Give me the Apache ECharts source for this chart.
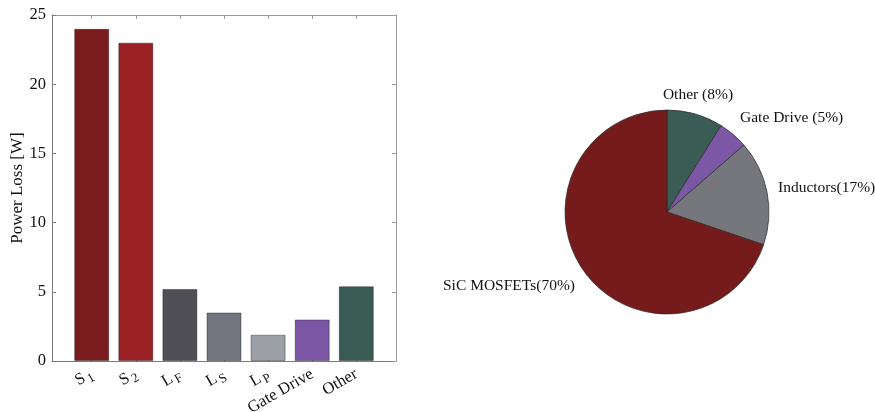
<!DOCTYPE html>
<html>
<head>
<meta charset="utf-8">
<script src="https://cdn.jsdelivr.net/npm/echarts@6/dist/echarts.min.js"></script>
<style>
  html, body { margin: 0; padding: 0; background: #fff; }
  #chart { width: 875px; height: 412px; }
</style>
</head>
<body>
<div id="chart"></div>
<script>
// bar chart: power loss per component
const barLabels = ['S{sub|1}', 'S{sub|2}', 'L{sub|F}', 'L{sub|S}', 'L{sub|P}', 'Gate Drive', 'Other'];
const barValues = [24, 23, 5.2, 3.5, 1.9, 3.0, 5.4];
const barColors = ['#7a1c1d', '#9c2125', '#4f4f55', '#73767e', '#9d9fa6', '#7b57a6', '#3a5c55'];
const yTicks = [0, 5, 10, 15, 20, 25];

// pie chart: loss breakdown (clockwise from top)
const pieNames = ['Other', 'Gate Drive', 'Inductors', 'SiC MOSFETs'];
const pieValues = [8.9, 4.7, 16.6, 69.8];
const pieLabels = ['Other (8%)', 'Gate Drive (5%)', 'Inductors(17%)', 'SiC MOSFETs(70%)'];
const pieColors = ['#3a5c55', '#7b57a6', '#76777d', '#761b1c'];

const serif = '"Liberation Serif", "DejaVu Serif", serif';
const catIdx = barValues.map((v, i) => i + 1);

const chart = echarts.init(document.getElementById('chart'), null, { renderer: 'canvas' });

// hand-placed pie label spots (MATLAB figure had moved labels)
const pieLabelPos = [
  { x: 698, y: 95, align: 'center' },
  { x: 740, y: 118, align: 'left' },
  { x: 778, y: 188, align: 'left' },
  { x: 443, y: 286, align: 'left' },
];

const option = {
  backgroundColor: '#fff',
  animation: false,
  textStyle: { fontFamily: serif },
  grid: { left: 52, top: 15, right: 479, bottom: 51, show: false, containLabel: false, outerBoundsMode: 'none' },
  xAxis: [
    {
      type: 'value',
      min: 0.1,
      max: 7.9,
      axisLine: { show: true, lineStyle: { color: '#7a7a7a', width: 1 } },
      splitLine: { show: false },
      axisTick: { show: true, inside: true, length: 4, customValues: catIdx, lineStyle: { color: '#7a7a7a' } },
      axisLabel: {
        customValues: catIdx,
        rotate: 30,
        margin: 12,
        color: '#111',
        fontFamily: serif,
        fontSize: 16.5,
        formatter: (v) => barLabels[Math.round(v) - 1] || '',
        rich: {
          sub: { fontSize: 13, fontFamily: serif, color: '#111', padding: [9, 0, 0, 2] },
        },
      },
    },
    {
      type: 'value',
      position: 'top',
      min: 0.1,
      max: 7.9,
      axisLine: { show: true, onZero: false, lineStyle: { color: '#9a9a9a', width: 1 } },
      splitLine: { show: false },
      axisTick: { show: true, inside: true, length: 4, customValues: catIdx, lineStyle: { color: '#9a9a9a' } },
      axisLabel: { show: false },
    },
  ],
  yAxis: [
    {
      type: 'value',
      min: 0,
      max: 25,
      interval: 5,
      name: 'Power Loss [W]',
      nameLocation: 'middle',
      nameGap: 25,
      nameTextStyle: { fontFamily: serif, fontSize: 17, color: '#111' },
      axisLine: { show: true, lineStyle: { color: '#7a7a7a', width: 1 } },
      splitLine: { show: false },
      axisTick: { show: true, inside: true, length: 4, lineStyle: { color: '#7a7a7a' } },
      axisLabel: {
        color: '#111',
        fontFamily: serif,
        fontSize: 16.5,
        margin: 6,
        formatter: (v) => (yTicks.includes(v) ? String(v) : ''),
      },
    },
    {
      type: 'value',
      position: 'right',
      min: 0,
      max: 25,
      interval: 5,
      axisLine: { show: true, onZero: false, lineStyle: { color: '#9a9a9a', width: 1 } },
      splitLine: { show: false },
      axisTick: { show: true, inside: true, length: 4, lineStyle: { color: '#9a9a9a' } },
      axisLabel: { show: false },
    },
  ],
  series: [
    {
      name: 'Power Loss',
      type: 'bar',
      xAxisIndex: 0,
      yAxisIndex: 0,
      barWidth: 35,
      data: barValues.map((v, i) => ({
        value: [i + 1, v],
        itemStyle: { color: barColors[i], borderColor: 'rgba(0,0,0,0.35)', borderWidth: 1 },
      })),
    },
    {
      name: 'Breakdown',
      type: 'pie',
      center: [667, 212],
      radius: 102,
      startAngle: 90,
      clockwise: true,
      data: pieNames.map((n, i) => ({
        name: n,
        value: pieValues[i],
        itemStyle: { color: pieColors[i] },
      })),
      itemStyle: { borderColor: '#2a2a2a', borderWidth: 0.7 },
      label: {
        show: true,
        position: 'outside',
        alignTo: 'none',
        overflow: 'none',
        fontFamily: serif,
        fontSize: 15.5,
        color: '#111',
        formatter: (p) => pieLabels[p.dataIndex],
      },
      labelLine: { show: false },
      labelLayout: (p) => {
        const pos = pieLabelPos[p.dataIndex];
        return { x: pos.x, y: pos.y, align: pos.align, verticalAlign: 'middle', width: 200 };
      },
      emphasis: { disabled: true },
    },
  ],
};

chart.setOption(option);
window.addEventListener('resize', () => chart.resize());
</script>
</body>
</html>
